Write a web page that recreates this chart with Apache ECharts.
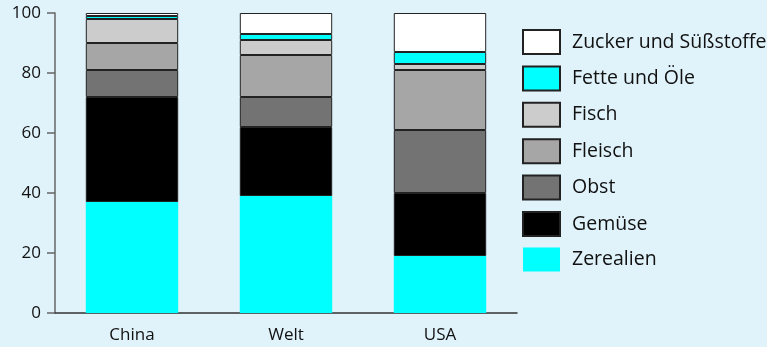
<!DOCTYPE html>
<html><head><meta charset="utf-8">
<script src="https://cdn.jsdelivr.net/npm/echarts@6/dist/echarts.min.js"></script>
<style>html,body{margin:0;padding:0;background:#e0f2fa;}#c{width:767px;height:347px;}</style>
</head><body><div id="c"></div>
<script>
const categories = ['China', 'Welt', 'USA'];
const zerealien = [37, 39, 19];
const gemuese = [35, 23, 21];
const obst = [9, 10, 21];
const fleisch = [9, 14, 20];
const fisch = [8, 5, 2];
const fette = [1, 2, 4];
const zucker = [1, 7, 13];
const yTicks = [0, 20, 40, 60, 80, 100];

const seriesDefs = [
  ['Zerealien', zerealien, '#00ffff', 0],
  ['Gemüse', gemuese, '#000000', 1],
  ['Obst', obst, '#737373', 1],
  ['Fleisch', fleisch, '#a6a6a6', 1],
  ['Fisch', fisch, '#cccccc', 1],
  ['Fette und Öle', fette, '#00ffff', 1],
  ['Zucker und Süßstoffe', zucker, '#ffffff', 1]
];

const chart = echarts.init(document.getElementById('c'));
chart.setOption({
  backgroundColor: '#e0f2fa',
  animation: false,
  textStyle: { fontFamily: 'Open Sans' },
  grid: { left: 55, right: 250, top: 13, bottom: 34 },
  legend: {
    orient: 'vertical',
    left: 522, top: 29, padding: 0,
    icon: 'rect',
    itemWidth: 37, itemHeight: 24, itemGap: 10.4,
    data: seriesDefs.map(s => s[0]).reverse(),
    textStyle: { fontSize: 19.5, lineHeight: 24, color: '#111', fontFamily: 'Open Sans', padding: [0, 0, 0, 7] }
  },
  xAxis: {
    type: 'category', data: categories,
    axisLine: { lineStyle: { color: '#333', width: 1.5 } },
    axisTick: { show: false },
    axisLabel: { fontSize: 17, color: '#111', margin: 14 }
  },
  yAxis: {
    type: 'value', min: 0, max: 100, interval: 20,
    axisLine: { show: true, lineStyle: { color: '#666', width: 1.5 } },
    axisTick: { show: true, length: 8, lineStyle: { color: '#666', width: 1.5 } },
    splitLine: { show: false },
    axisLabel: { fontSize: 17, color: '#111', margin: 14,
      formatter: v => yTicks.includes(v) ? String(v) : '' }
  },
  series: seriesDefs.map(([name, data, color, b]) => ({
    name, type: 'bar', stack: 'all', data, barWidth: '60%',
    itemStyle: { color, borderColor: b ? '#222' : color, borderWidth: b ? 1 : 0 }
  }))
});
</script></body></html>
